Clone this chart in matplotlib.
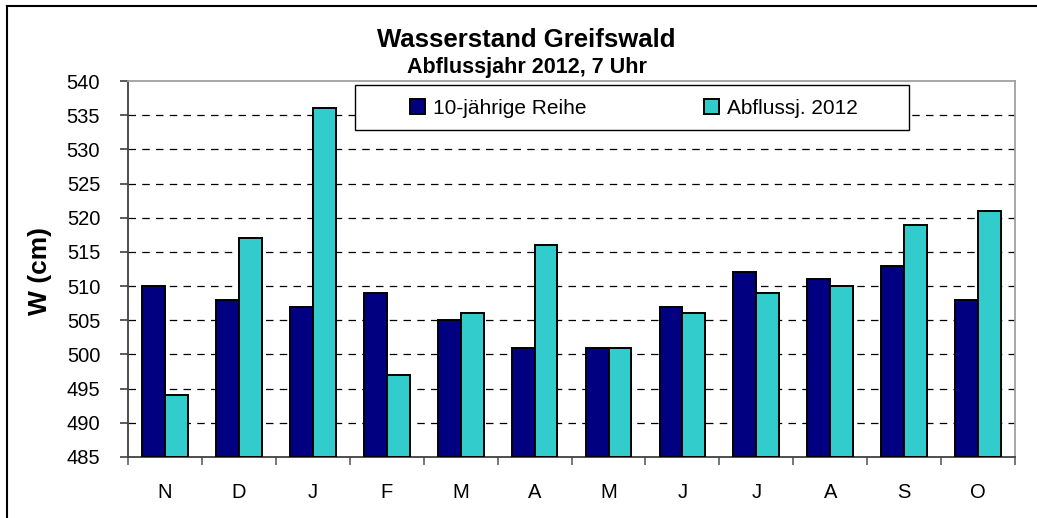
import numpy as np
import matplotlib
matplotlib.use("Agg")
import matplotlib.pyplot as plt
from matplotlib.lines import Line2D
from matplotlib.patches import Rectangle

plt.rcParams["font.family"] = ["Liberation Sans", "DejaVu Sans"]

MONTHS = ["N", "D", "J", "F", "M", "A", "M", "J", "J", "A", "S", "O"]
REIHE = [510, 508, 507, 509, 505, 501, 501, 507, 512, 511, 513, 508]
JAHR_2012 = [494, 517, 536, 497, 506, 516, 501, 506, 509, 510, 519, 521]
LABELS = ["10-jährige Reihe", "Abflussj. 2012"]

NAVY, CYAN = "#000080", "#33CCCC"

fig = plt.figure(figsize=(10.37, 5.18), dpi=100)
ax = fig.add_axes([0.1234, 0.1178, 0.8555, 0.7258])

x = np.arange(len(MONTHS))
w = 0.31
base = 485
ax.bar(x - w / 2, np.array(REIHE) - base, w, bottom=base, color=NAVY,
       edgecolor="black", lw=1.4, label=LABELS[0], zorder=3)
ax.bar(x + w / 2, np.array(JAHR_2012) - base, w, bottom=base, color=CYAN,
       edgecolor="black", lw=1.4, label=LABELS[1], zorder=3)

ax.set_xlim(-0.5, len(MONTHS) - 0.5)
ax.set_ylim(485, 540)
ax.set_yticks(range(485, 541, 5))
ax.tick_params(axis="y", labelsize=14.5, length=6, width=1.2, color="#404040",
               direction="out", pad=14)
ax.set_xticks(x)
ax.set_xticklabels(MONTHS, fontsize=14.5)
ax.tick_params(axis="x", which="major", length=0, pad=19)
# ticks sit between the month groups
ax.set_xticks(np.arange(-0.5, len(MONTHS)), minor=True)
ax.tick_params(axis="x", which="minor", length=6, width=1.2, color="#606060", direction="out")

for v in range(490, 540, 5):
    ax.axhline(v, color="black", lw=0.9, ls=(0, (6, 5)), zorder=1)

ax.spines["left"].set_color("#404040")
ax.spines["bottom"].set_color("#404040")
ax.spines["left"].set_linewidth(1.3)
ax.spines["bottom"].set_linewidth(1.3)
for s in ("top", "right"):
    ax.spines[s].set_color("#a0a0a0")
    ax.spines[s].set_linewidth(1.3)

ax.set_ylabel("W (cm)", fontsize=19, fontweight="bold")
ax.yaxis.set_label_coords(-0.0858, 0.495)

# legend box drawn separately (wide padding like the original)
ax.add_patch(Rectangle((0.2562, 0.8697), 0.6242, 0.1197, transform=ax.transAxes,
                       facecolor="white", edgecolor="black", lw=1.0, zorder=4))
leg = ax.legend(loc="center left", bbox_to_anchor=(0.318, 0.928), ncol=2, fontsize=15,
                frameon=False, borderpad=0, borderaxespad=0,
                handlelength=0.72, handleheight=0.72, handletextpad=0.4,
                columnspacing=5.6)
leg.set_zorder(5)

fig.text(0.507, 0.922, "Wasserstand Greifswald", ha="center", va="center",
         fontsize=18.5, fontweight="bold")
fig.text(0.508, 0.870, "Abflussjahr 2012, 7 Uhr", ha="center", va="center",
         fontsize=15.5, fontweight="bold")

# outer chart frame (left and top edges visible)
fig.add_artist(Line2D([0.007, 0.007], [0, 0.989], color="black", lw=1.5, transform=fig.transFigure))
fig.add_artist(Line2D([0.007, 1.0], [0.989, 0.989], color="black", lw=1.5, transform=fig.transFigure))

fig.savefig("out.png", dpi=100)
